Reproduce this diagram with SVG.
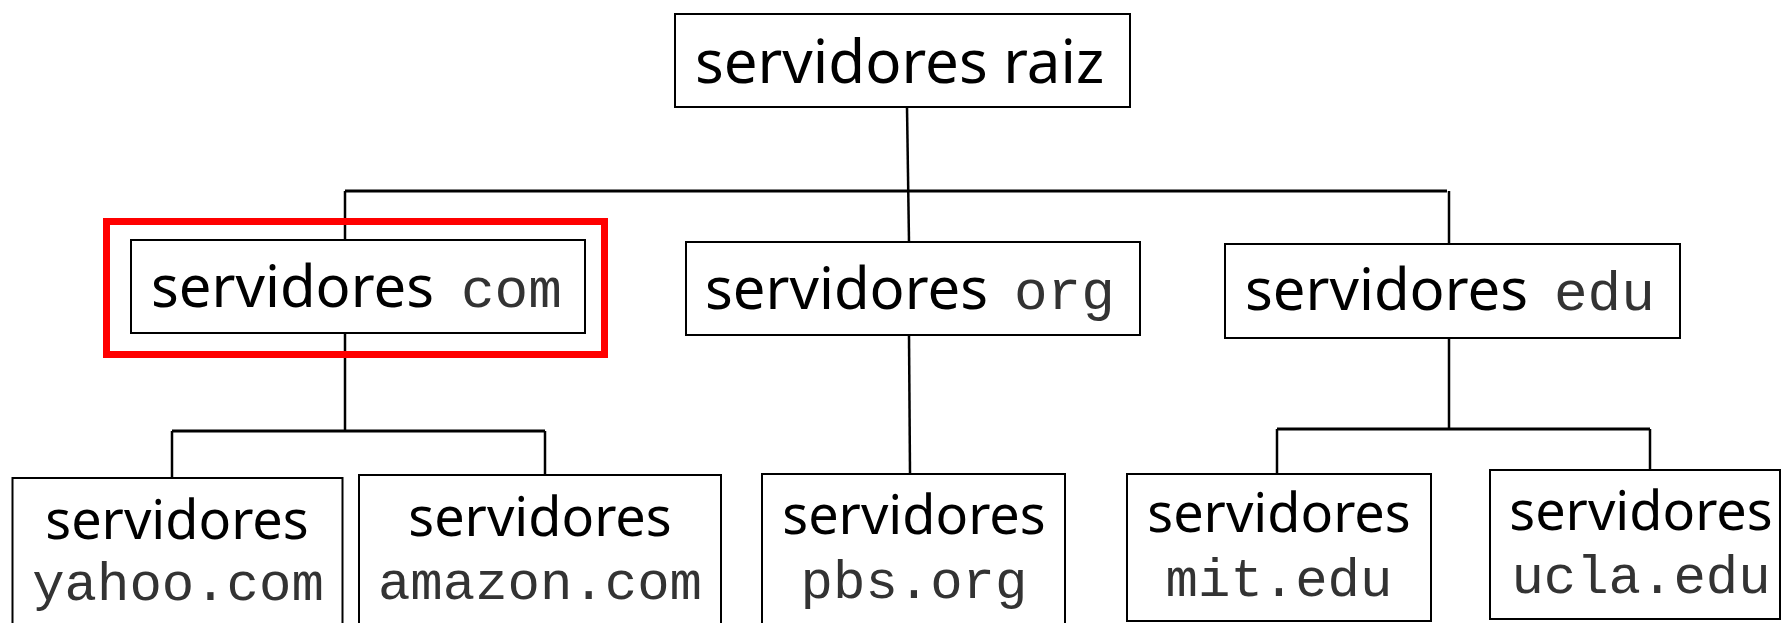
<svg xmlns="http://www.w3.org/2000/svg" width="1782" height="623" viewBox="0 0 1782 623">
<style>
.box{fill:#fff;stroke:#000;stroke-width:2}
.ln{stroke:#000;stroke-width:2.5;fill:none}
.hl{stroke:#000;stroke-width:3;fill:none}
.s{font-family:"Noto Sans",sans-serif;fill:#000}
.m{font-family:"Liberation Mono",monospace;fill:#333}
.t{font-size:58px}
.b{font-size:54px}
.mt{font-size:56px}
.mb{font-size:54px}
</style>
<rect width="1782" height="623" fill="#fff"/>
<g id="connectors">
<line class="ln" x1="907" y1="107" x2="909" y2="242"/>
<line class="hl" x1="345" y1="191" x2="1447" y2="191"/>
<line class="ln" x1="345" y1="191" x2="345" y2="240"/>
<line class="ln" x1="1449" y1="191" x2="1449" y2="244"/>
<line class="ln" x1="345" y1="333" x2="345" y2="430"/>
<line class="hl" x1="172" y1="431" x2="545" y2="431"/>
<line class="ln" x1="172" y1="431" x2="172" y2="478"/>
<line class="ln" x1="545" y1="431" x2="545" y2="475"/>
<line class="ln" x1="909" y1="335" x2="910" y2="474"/>
<line class="ln" x1="1449" y1="338" x2="1449" y2="428"/>
<line class="hl" x1="1277" y1="429" x2="1650" y2="429"/>
<line class="ln" x1="1277" y1="429" x2="1277" y2="474"/>
<line class="ln" x1="1650" y1="429" x2="1650" y2="470"/>
</g>
<g id="root">
<rect class="box" x="675" y="14" width="455" height="93"/>
<text class="s" x="695" y="83" font-size="60">servidores raiz</text>
</g>
<g id="com">
<rect x="106.5" y="221.5" width="498" height="133" fill="none" stroke="#ff0000" stroke-width="7"/>
<rect class="box" x="131" y="240" width="454" height="93"/>
<text class="s t" y="307"><tspan x="151">servidores</tspan><tspan class="m mt" x="461">com</tspan></text>
</g>
<g id="org">
<rect class="box" x="686" y="242" width="454" height="93"/>
<text class="s t" y="309"><tspan x="705">servidores</tspan><tspan class="m mt" x="1014">org</tspan></text>
</g>
<g id="edu">
<rect class="box" x="1225" y="244" width="455" height="94"/>
<text class="s t" y="310"><tspan x="1245">servidores</tspan><tspan class="m mt" x="1554">edu</tspan></text>
</g>
<g id="yahoo">
<rect class="box" x="12.5" y="478" width="330" height="160"/>
<text class="s b" x="177" y="539" text-anchor="middle">servidores</text>
<text class="m mb" x="178" y="600" text-anchor="middle">yahoo.com</text>
</g>
<g id="amazon">
<rect class="box" x="359" y="475" width="362" height="160"/>
<text class="s b" x="540" y="536" text-anchor="middle">servidores</text>
<text class="m mb" x="540" y="599" text-anchor="middle">amazon.com</text>
</g>
<g id="pbs">
<rect class="box" x="762" y="474" width="303" height="160"/>
<text class="s b" x="914" y="534" text-anchor="middle">servidores</text>
<text class="m mb" x="914" y="598" text-anchor="middle">pbs.org</text>
</g>
<g id="mit">
<rect class="box" x="1127" y="474" width="304" height="147"/>
<text class="s b" x="1279" y="532" text-anchor="middle">servidores</text>
<text class="m mb" x="1279" y="596" text-anchor="middle">mit.edu</text>
</g>
<g id="ucla">
<rect class="box" x="1490" y="470" width="290" height="149"/>
<text class="s b" x="1641" y="530" text-anchor="middle">servidores</text>
<text class="m mb" x="1641" y="593" text-anchor="middle">ucla.edu</text>
</g>
</svg>
